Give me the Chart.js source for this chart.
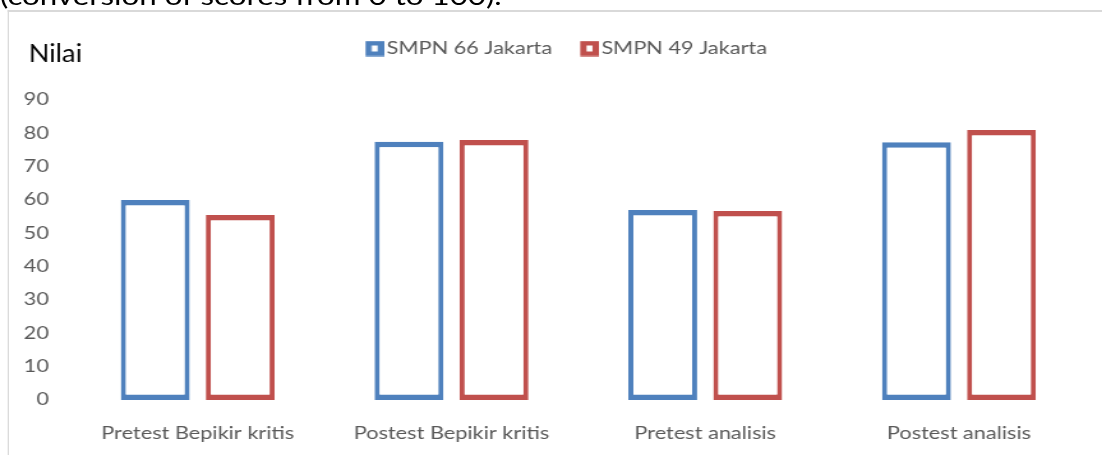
<!DOCTYPE html>
<html>
<head>
<meta charset="utf-8">
<script src="https://cdn.jsdelivr.net/npm/chart.js@4/dist/chart.umd.min.js"></script>
<style>
  html, body { margin: 0; padding: 0; background: #fff; overflow: hidden; }
  body { width: 1102px; height: 455px; position: relative; }
  /* the whole sheet is rendered with a horizontal stretch */
  .stage {
    position: absolute; left: 0; top: 0; width: 863px; height: 455px;
    transform: scaleX(1.277); transform-origin: 0 0;
  }
  .caption {
    position: absolute; left: 0; top: -16.2px;
    font-family: Lato, sans-serif; font-size: 24.5px; line-height: 24.5px;
    color: #000; white-space: nowrap;
  }
  .frame {
    position: absolute; left: 5.5px; top: 10px; width: 857.5px; height: 443px;
    border-left: 1.6px solid #d9d9d9; border-top: 2px solid #d9d9d9;
  }
  .frame canvas { display: block; }
</style>
</head>
<body>
<div class="stage">
  <div class="caption">(conversion of scores from 0 to 100).</div>
  <div class="frame"><canvas id="chart" width="856" height="443"></canvas></div>
</div>
<script>
// Categories and scores per school
const categories = ['Pretest Bepikir kritis', 'Postest Bepikir kritis', 'Pretest analisis', 'Postest analisis'];
const smpn66 = [60, 77.5, 57, 77.3];
const smpn49 = [55.5, 78, 56.7, 81];
const seriesNames = ['SMPN 66 Jakarta', 'SMPN 49 Jakarta'];
const yTicks = [0, 10, 20, 30, 40, 50, 60, 70, 80, 90];
const axisTitle = 'Nilai';

const BLUE = '#4F81BD';
const RED = '#C0504D';
const GREY = '#595959';
const FONT = 'Lato, sans-serif';
const BAR_BORDER = { top: 5.5, bottom: 5.5, left: 4, right: 4 };

// Legend swatch: a thick outlined square sitting right next to its label
function legendSwatch(color) {
  const c = document.createElement('canvas');
  c.width = 15; c.height = 16;
  const g = c.getContext('2d');
  g.fillStyle = color;
  g.fillRect(0.4, 0.35, 14.6, 15.3);
  g.fillStyle = '#ffffff';
  g.fillRect(0.4 + (14.6 - 4.7) / 2, 0.35 + (15.3 - 6) / 2, 4.7, 6);
  return c;
}
const swatches = [legendSwatch(BLUE), legendSwatch(RED)];

// Horizontal value-axis caption in the top-left corner, and legend nudge
const axisCaption = {
  id: 'axisCaption',
  afterLayout(chart) {
    chart.legend.left += 17.75;
    chart.legend.right += 17.75;
  },
  afterDraw(chart) {
    const ctx = chart.ctx;
    ctx.save();
    ctx.translate(15.4, 50.3);
    ctx.scale(0.85, 1);
    ctx.font = '25px ' + FONT;
    ctx.fillStyle = '#000';
    ctx.textAlign = 'left';
    ctx.textBaseline = 'alphabetic';
    ctx.fillText(axisTitle, 0, 0);
    ctx.restore();
  }
};

new Chart(document.getElementById('chart'), {
  type: 'bar',
  data: {
    labels: categories,
    datasets: [
      { label: seriesNames[0], data: smpn66, backgroundColor: '#ffffff', borderColor: BLUE,
        borderWidth: BAR_BORDER, borderSkipped: false },
      { label: seriesNames[1], data: smpn49, backgroundColor: '#ffffff', borderColor: RED,
        borderWidth: BAR_BORDER, borderSkipped: false }
    ]
  },
  options: {
    responsive: false,
    animation: false,
    events: [],
    layout: { padding: { left: 0, right: 12.7, top: 0, bottom: 0 } },
    datasets: { bar: { categoryPercentage: 0.67, barPercentage: 0.81 } },
    plugins: {
      tooltip: { enabled: false },
      title: { display: false },
      // empty spacer between legend and plot
      subtitle: { display: true, text: '', weight: 500, font: { size: 10 }, padding: { top: 0, bottom: 21 } },
      legend: {
        position: 'top',
        labels: {
          font: { family: FONT, size: 17 },
          color: GREY,
          usePointStyle: true,
          pointStyleWidth: 2,
          padding: 28,
          generateLabels(c) {
            return Chart.defaults.plugins.legend.labels.generateLabels(c)
              .map((l, i) => Object.assign(l, { pointStyle: swatches[i], lineWidth: 0 }));
          }
        }
      }
    },
    scales: {
      x: {
        grid: { display: false, drawTicks: false },
        border: { display: false },
        ticks: { font: { family: FONT, size: 17 }, color: GREY, padding: 23, maxRotation: 0 },
        afterFit(scale) { scale.height = 55; }
      },
      y: {
        min: 0, max: 90,
        grid: { display: false, drawTicks: false },
        border: { display: false },
        afterBuildTicks(scale) { scale.ticks = yTicks.map(v => ({ value: v })); },
        ticks: { font: { family: FONT, size: 17 }, color: GREY, padding: 17.2 },
        afterFit(scale) { scale.width = 48.5; }
      }
    }
  },
  plugins: [axisCaption]
});
</script>
</body>
</html>
